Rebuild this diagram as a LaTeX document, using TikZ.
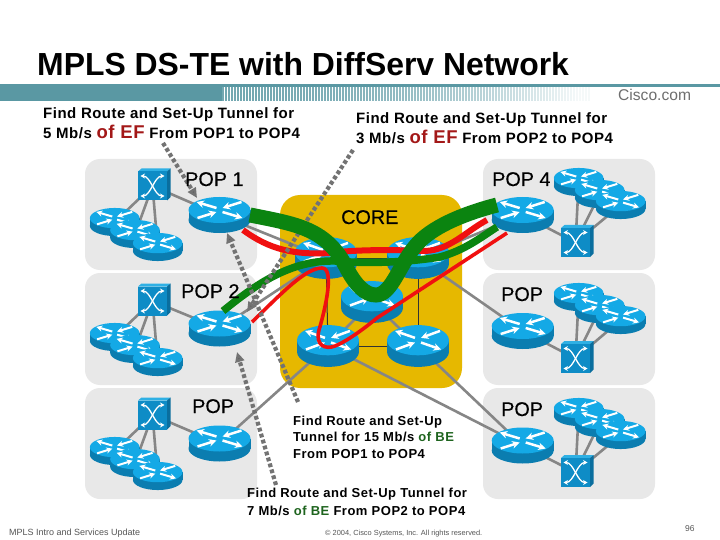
\documentclass[tikz,border=0pt]{standalone}
\usepackage{fontspec}
\setmainfont{Liberation Sans}
\usetikzlibrary{arrows.meta}
\definecolor{band}{HTML}{5A98A3}
\definecolor{panel}{HTML}{E8E8E8}
\definecolor{coregold}{HTML}{E6B800}
\definecolor{rtop}{HTML}{14A9E6}
\definecolor{rbody}{HTML}{0B7DB0}
\definecolor{swfront}{HTML}{0E8CC6}
\definecolor{swtop}{HTML}{2FB0E4}
\definecolor{swside}{HTML}{0A6E9E}
\definecolor{tubegreen}{HTML}{0B8410}
\definecolor{tubered}{HTML}{F01010}
\definecolor{efred}{HTML}{A31818}
\definecolor{begreen}{HTML}{1E641E}
\definecolor{footgray}{HTML}{555555}
\tikzset{
  linkline/.style={draw=gray!95,line width=2.6pt},
  thinlink/.style={draw=black!80,line width=1pt},
  panelbox/.style={fill=panel,rounded corners=15pt},
  dotarrow/.style={draw=gray!90!black,line width=4.2pt,dash pattern=on 3.8pt off 2.4pt,
     -{Triangle[length=10pt,width=9pt,fill=gray!70!black]}},
  body/.style={font=\fontsize{15}{16}\selectfont\bfseries\addfontfeatures{LetterSpace=3.3},anchor=base west,inner sep=0pt},
  smallbody/.style={font=\fontsize{13}{14}\selectfont\bfseries\addfontfeatures{LetterSpace=4},anchor=base west,inner sep=0pt},
  poplabel/.style={font=\fontsize{19.8}{20}\selectfont\addfontfeatures{FakeBold=0.3},anchor=base west,inner sep=0pt},
}
\newcommand{\EF}{{\color{efred}\fontsize{18.5}{16}\selectfont of EF}}
\newcommand{\BE}{{\color{begreen}of BE}}
% name, x scale, y scale
\newcommand{\netrouter}[3]{%
  \begin{scope}[shift={(#1)},xscale=#2,yscale=#3]
    \pgfmathsetmacro{\rw}{2.5*#2}
    \pgfmathsetmacro{\rl}{7.5*#2}
    \fill[rbody] (0,5) ellipse [x radius=31,y radius=13];
    \fill[rbody] (-31,-5) rectangle (31,5);
    \fill[rtop] (0,-5) ellipse [x radius=31,y radius=13];
    \draw[white,line width=\rw pt,-{Stealth[length=\rl pt,width=\rl pt]}] (-3,-7) -- (-23,-13);
    \draw[white,line width=\rw pt,-{Stealth[length=\rl pt,width=\rl pt]}] (22,-13) -- (3,-7);
    \draw[white,line width=\rw pt,-{Stealth[length=\rl pt,width=\rl pt]}] (-22,3) -- (-3,-3);
    \draw[white,line width=\rw pt,-{Stealth[length=\rl pt,width=\rl pt]}] (3,-3) -- (23,3);
  \end{scope}}
\newcommand{\netswitch}[1]{%
  \begin{scope}[shift={(#1)}]
    \fill[swtop] (-14.5,-14.5) -- (-11,-17.5) -- (18,-17.5) -- (14.5,-14.5) -- cycle;
    \fill[swside] (14.5,-14.5) -- (18,-17.5) -- (18,11) -- (14.5,14.5) -- cycle;
    \fill[swfront] (-14.5,-14.5) rectangle (14.5,14.5);
    \draw[white,line width=1.3pt,{Stealth[length=4.5pt,width=5pt]}-{Stealth[length=4.5pt,width=5pt]}]
      (-12,-10) .. controls (-2,-10) and (2,10) .. (12,10);
    \draw[white,line width=1.3pt,{Stealth[length=4.5pt,width=5pt]}-{Stealth[length=4.5pt,width=5pt]}]
      (-12,10) .. controls (-2,10) and (2,-10) .. (12,-10);
  \end{scope}}
\begin{document}
\begin{tikzpicture}[x=1pt,y=-1pt]
\useasboundingbox (0,0) rectangle (720,540);
\fill[white] (0,0) rectangle (720,540);
\node[anchor=base west,inner sep=0pt,font=\fontsize{31.9}{32}\selectfont\bfseries] (title) at (37,76) {MPLS DS-TE with DiffServ Network};
% header band
\fill[band] (0,84) rectangle (222,100.8);
\fill[band] (222,84) rectangle (720,87);
\foreach \bx in {222,225,...,590}{
  \pgfmathsetmacro{\bt}{max(6,85*(1-((\bx-222)/368)^2))}
  \fill[band!\bt!white] (\bx,87) rectangle (\bx+1.7,100.8);
}
\node[anchor=base west,inner sep=0pt,font=\fontsize{15.6}{16}\selectfont,text=footgray!85] (cisco) at (618,101) {Cisco.com};
% panels
\fill[panelbox] (85,159) rectangle (257,270);
\fill[panelbox] (85,273) rectangle (257,385);
\fill[panelbox] (85,388) rectangle (257,499);
\fill[panelbox] (483,159) rectangle (655,270);
\fill[panelbox] (483,273) rectangle (655,385);
\fill[panelbox] (483,388) rectangle (655,499);
\fill[coregold,rounded corners=20pt] (280,195) rectangle (462,388);
% coordinates: edge routers
\coordinate (ra) at (219.5,215);
\coordinate (rb) at (219.5,328.5);
\coordinate (rc) at (219.5,443.5);
\coordinate (rd) at (522.7,215);
\coordinate (re) at (522.7,331);
\coordinate (rf) at (522.7,445.5);
% core routers
\coordinate (ca) at (326,258);
\coordinate (cb) at (418,258);
\coordinate (cc) at (372,302);
\coordinate (cd) at (328,346);
\coordinate (ce) at (418,346);
% switches
\coordinate (sa) at (152.5,186);
\coordinate (sb) at (152.5,301);
\coordinate (sc) at (152.5,415);
\coordinate (sd) at (575.5,242.5);
\coordinate (se) at (575.5,358.5);
\coordinate (sf) at (575.5,472.5);
% small routers
\foreach \nm/\px/\py in {a1/114.7/222,a2/135/234,a3/157.7/247,
                         b1/114.7/337,b2/135/349,b3/157.7/362,
                         c1/114.7/451,c2/135/463,c3/157.7/476,
                         d1/578.7/182,d2/599.7/194,d3/620.7/205,
                         e1/578.7/297,e2/599.7/309,e3/620.7/320,
                         f1/578.7/412,f2/599.7/423,f3/620.7/435}{
  \coordinate (\nm) at (\px,\py);
}
% links
\foreach \sw/\rt/\ra/\rb/\rc in {sa/ra/a1/a2/a3,sb/rb/b1/b2/b3,sc/rc/c1/c2/c3,sd/rd/d1/d2/d3,se/re/e1/e2/e3,sf/rf/f1/f2/f3}{
  \draw[linkline] (\sw) -- (\rt);
  \draw[linkline] (\sw) -- (\ra);
  \draw[linkline] (\sw) -- (\rb);
  \draw[linkline] (\sw) -- (\rc);
}
\draw[linkline] (ra) -- (ca);
\draw[linkline] (rb) -- (ca);
\draw[linkline] (rc) -- (cd);
\draw[linkline] (rd) -- (cb);
\draw[linkline] (re) -- (cb);
\draw[linkline] (rf) -- (ce);
\draw[linkline] (rf) -- (cd);
\draw[linkline] (ca) -- (cc);
\draw[linkline] (cb) -- (cc);
\draw[linkline] (cd) -- (cc);
\draw[linkline] (ce) -- (cc);
\draw[thinlink] (ca) -- (cb);
\draw[thinlink] (ca) -- (cd);
\draw[thinlink] (cb) -- (ce);
\draw[thinlink] (cd) -- (ce);
% devices
\foreach \nm in {sa,sb,sc,sd,se,sf}{\netswitch{\nm}}
\foreach \nm in {a1,a2,a3,b1,b2,b3,c1,c2,c3,d1,d2,d3,e1,e2,e3,f1,f2,f3}{\netrouter{\nm}{0.8}{0.78}}
\foreach \nm in {ra,rb,rc,rd,re,rf}{\netrouter{\nm}{1}{1}}
\foreach \nm in {ca,cb,cc,cd,ce}{\netrouter{\nm}{1}{1.16}}
% tube ends
\coordinate (ta) at (250,215);
\coordinate (tb) at (497,205);
\coordinate (tc) at (223,311);
\coordinate (td) at (497,227);
\coordinate (te) at (243,230);
\coordinate (tf) at (487,220);
\coordinate (tg) at (252,322);
\coordinate (th) at (507,233);
% tubes
\draw[tubered,line width=3.6pt] (tg) .. controls (280,295) and (305,268) .. (322,268)
   .. controls (335,268) and (325,310) .. (319,330)
   .. controls (315,345) and (325,350) .. (335,346) .. controls (345,342) and (360,332) .. (377,318) -- (th);
\draw[tubered,line width=6pt] (te) .. controls (270,250) and (295,255) .. (330,253)
   .. controls (360,249) and (400,250) .. (425,251) .. controls (450,250) and (465,232) .. (tf);
\draw[tubegreen,line width=7.5pt] (tc) .. controls (255,285) and (290,260) .. (335,261)
   .. controls (370,264) and (410,262) .. (440,257) .. controls (465,250) and (480,238) .. (td);
% dotted arrows
\coordinate (da) at (163,143);
\coordinate (db) at (197,198);
\coordinate (dc) at (353,150);
\coordinate (dd) at (247,312);
\coordinate (de) at (298,402);
\coordinate (df) at (227,233);
\coordinate (dg) at (276,485);
\coordinate (dh) at (237,352);
\draw[dotarrow] (da) -- (db);
\draw[dotarrow] (dc) -- (dd);
\draw[dotarrow] (de) -- (df);
\draw[dotarrow] (dg) -- (dh);
\draw[tubegreen,line width=15pt] (ta) .. controls (295,224) and (325,228) .. (345,265)
   .. controls (355,285) and (365,295) .. (376,295)
   .. controls (392,295) and (400,262) .. (418,243)
   .. controls (436,224) and (470,212) .. (tb);
% labels
\node[poplabel] (lpa) at (185,186) {POP 1};
\node[poplabel] (lpd) at (492,186) {POP 4};
\node[poplabel] (lcore) at (341,224) {CORE};
\node[poplabel] (lpb) at (181,298) {POP 2};
\node[poplabel] (lpc) at (192,413) {POP};
\node[poplabel] (lpe) at (501,301) {POP};
\node[poplabel] (lpf) at (501,416) {POP};
\node[body] (ta1) at (43,119) {Find Route and Set-Up Tunnel for};
\node[body] (ta2) at (43,139) {5 Mb/s \EF{} From POP1 to POP4};
\node[body] (tb1) at (356,124) {Find Route and Set-Up Tunnel for};
\node[body] (tb2) at (356,144) {3 Mb/s \EF{} From POP2 to POP4};
\node[smallbody] (tc1) at (293,425) {Find Route and Set-Up};
\node[smallbody] (tc2) at (293,441) {Tunnel for 15 Mb/s \BE};
\node[smallbody] (tc3) at (293,458) {From POP1 to POP4};
\node[smallbody] (td1) at (247,497) {Find Route and Set-Up Tunnel for};
\node[smallbody] (td2) at (247,515) {7 Mb/s \BE{} From POP2 to POP4};
% footer
\node[anchor=base west,inner sep=0pt,font=\fontsize{9}{10}\selectfont,text=footgray] (fa) at (9,535) {MPLS Intro and Services Update};
\node[anchor=base west,inner sep=0pt,font=\fontsize{7.4}{8}\selectfont,text=footgray] (fb) at (325,535) {© 2004, Cisco Systems, Inc. All rights reserved.};
\node[anchor=base west,inner sep=0pt,font=\fontsize{8.5}{9}\selectfont,text=footgray] (fc) at (685,531) {96};
\end{tikzpicture}
\end{document}
